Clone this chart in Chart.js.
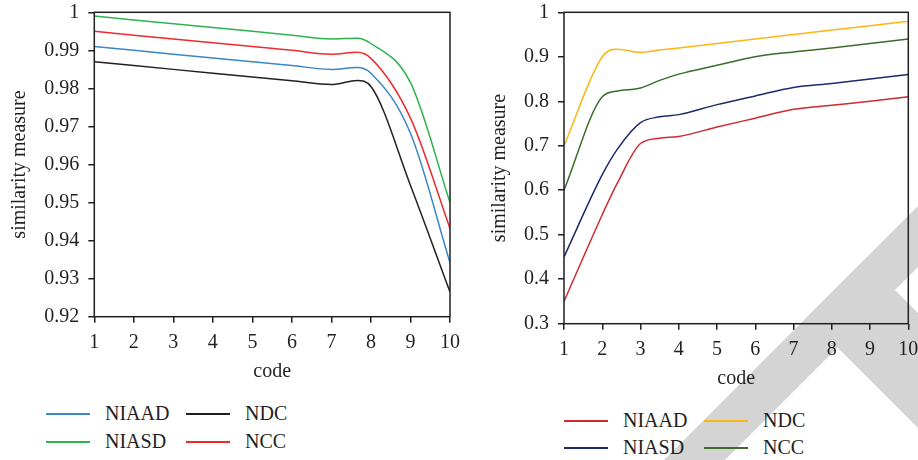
<!DOCTYPE html>
<html>
<head>
<meta charset="utf-8">
<script src="https://cdn.jsdelivr.net/npm/chart.js@4"></script>
<style>
  html, body { margin: 0; padding: 0; background: #fff; }
  #wrap { position: relative; width: 918px; height: 460px; overflow: hidden; font-family: "Liberation Serif", "DejaVu Serif", serif; color: #231f20; }
  #wm { position: absolute; left: 0; top: 0; }
  canvas { position: absolute; }
  #cLeft { left: 0; top: 0; }
  #cRight { left: 460px; top: 0; }
  .leg { position: absolute; font-size: 20px; line-height: 24px; white-space: nowrap; }
  .leg i { display: inline-block; width: 44px; height: 2px; vertical-align: middle; margin-right: 15px; position: relative; top: -1px; }
</style>
</head>
<body>
<div id="wrap">
  <!-- watermark abu-abu di belakang grafik -->
  <svg id="wm" width="918" height="460">
    <polygon points="664,460 725,460 918,267 918,206" fill="#d4d4d4"/>
    <polygon points="807,317 864.5,259.5 918,313 918,428" fill="#d4d4d4"/>
  </svg>
  <canvas id="cLeft" width="460" height="384" style="width:460px;height:384px"></canvas>
  <canvas id="cRight" width="458" height="391" style="width:458px;height:391px"></canvas>
  <div id="legends"></div>
</div>
<script>
// --- data: kiri (nilai turun) ---
const xLeft = [1, 2, 3, 4, 5, 6, 7, 7.65, 8, 9, 10];
const leftNIAAD = [0.991, 0.990, 0.989, 0.988, 0.987, 0.986, 0.985, 0.9855, 0.9840, 0.9682, 0.9342];
const leftNIASD = [0.999, 0.998, 0.997, 0.996, 0.995, 0.994, 0.993, 0.9932, 0.9918, 0.9815, 0.9500];
const leftNDC   = [0.987, 0.986, 0.985, 0.984, 0.983, 0.982, 0.981, 0.9821, 0.9805, 0.9545, 0.9265];
const leftNCC   = [0.995, 0.994, 0.993, 0.992, 0.991, 0.990, 0.989, 0.9895, 0.9879, 0.9722, 0.9432];

// --- data: kanan (nilai naik) ---
const xRight = [1, 2, 2.4, 3, 3.5, 4, 5, 6, 7, 8, 9, 10];
const rightNIAAD = [0.35, 0.545, 0.617, 0.705, 0.717, 0.721, 0.742, 0.762, 0.782, 0.791, 0.800, 0.810];
const rightNIASD = [0.45, 0.635, 0.693, 0.752, 0.765, 0.770, 0.7925, 0.812, 0.831, 0.840, 0.850, 0.860];
const rightNDC   = [0.70, 0.900, 0.917, 0.910, 0.915, 0.920, 0.930, 0.940, 0.950, 0.960, 0.970, 0.980];
const rightNCC   = [0.60, 0.810, 0.823, 0.830, 0.847, 0.861, 0.881, 0.900, 0.911, 0.920, 0.930, 0.940];

const seriesNames = ['NIAAD', 'NIASD', 'NDC', 'NCC'];
const leftColors  = ['#3a86c8', '#2db34e', '#231f20', '#ee2a2e'];
const rightColors = ['#cf2a2f', '#1c2a6b', '#fdb515', '#3d6b2b'];

const INK = '#231f20';
const FONT = { family: '"Liberation Serif", "DejaVu Serif", serif', size: 20 };

// bingkai kotak di sekitar area plot
const frame = {
  id: 'frame',
  afterDraw(chart) {
    const { ctx, chartArea: a } = chart;
    ctx.save();
    ctx.strokeStyle = INK;
    ctx.lineWidth = 1.5;
    ctx.strokeRect(a.left, a.top, a.right - a.left, a.bottom - a.top);
    ctx.restore();
  }
};

function pts(xs, ys) {
  return xs.map((x, i) => ({ x, y: ys[i] }));
}

// buang padding otomatis supaya area plot pas
function noPad(s) {
  s.paddingLeft = 0; s.paddingRight = 0; s.paddingTop = 0; s.paddingBottom = 0;
}

function makeChart(id, xs, seriesList, colors, yMin, yMax, yStep, digits, opts) {
  const datasets = seriesList.map((ys, i) => ({
    label: seriesNames[i],
    data: pts(xs, ys),
    borderColor: colors[i],
    borderWidth: 1.5,
    pointRadius: 0,
    fill: false,
    cubicInterpolationMode: 'monotone'
  }));
  return new Chart(document.getElementById(id), {
    type: 'line',
    data: { datasets },
    plugins: [frame],
    options: {
      responsive: false,
      animation: false,
      events: [],
      layout: { padding: { top: 12.3, right: opts.right, left: 0, bottom: 0 } },
      plugins: { legend: { display: false }, tooltip: { enabled: false } },
      scales: {
        x: {
          type: 'linear', min: 1, max: 10,
          afterFit: s => { s.height = 67.3; noPad(s); },
          ticks: { stepSize: 1, color: INK, font: FONT, padding: 8, maxRotation: 0 },
          grid: { drawOnChartArea: false, drawTicks: true, tickLength: 6, color: INK, lineWidth: 1.5 },
          border: { display: false },
          title: { display: true, text: 'code', color: INK, font: FONT, padding: { top: 2, bottom: 0 } }
        },
        y: {
          min: yMin, max: yMax,
          afterFit: s => { s.width = opts.yWidth; noPad(s); },
          ticks: { stepSize: yStep, color: INK, font: FONT, padding: 9,
                   callback: v => String(parseFloat(v.toFixed(digits))) },
          grid: { drawOnChartArea: false, drawTicks: true, tickLength: 6, color: INK, lineWidth: 1.5 },
          border: { display: false },
          title: { display: true, text: 'similarity measure', color: INK, font: FONT,
                   padding: { top: opts.titlePad, bottom: 0 } }
        }
      }
    }
  });
}

makeChart('cLeft', xLeft, [leftNIAAD, leftNIASD, leftNDC, leftNCC], leftColors,
  0.92, 1, 0.01, 2, { yWidth: 94.3, titlePad: 8, right: 10 });
makeChart('cRight', xRight, [rightNIAAD, rightNIASD, rightNDC, rightNCC], rightColors,
  0.3, 1, 0.1, 1, { yWidth: 104, titlePad: 28, right: 9.7 });

// --- legenda HTML, dua kolom ---
function legend(colors, x0, x1, y0, y1) {
  const box = document.getElementById('legends');
  const pos = [[x0, y0], [x0, y1], [x1, y0], [x1, y1]];
  seriesNames.forEach((name, i) => {
    const d = document.createElement('div');
    d.className = 'leg';
    d.style.left = pos[i][0] + 'px';
    d.style.top = (pos[i][1] - 12) + 'px';
    d.innerHTML = `<i style="background:${colors[i]}"></i>${name}`;
    box.appendChild(d);
  });
}
legend(leftColors, 46, 186, 413, 441);
legend(rightColors, 564, 704, 420, 447);
</script>
</body>
</html>
